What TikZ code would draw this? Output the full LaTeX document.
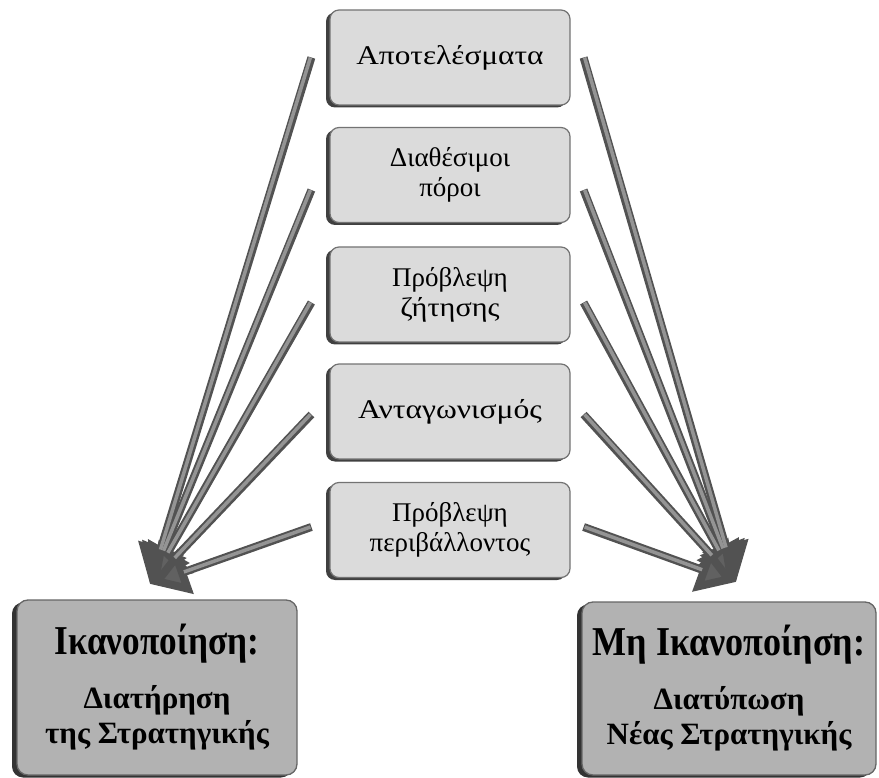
\documentclass[tikz,border=0pt]{standalone}
\usepackage{fontspec}
\usepackage{graphicx}
\setmainfont{Liberation Serif}
\usetikzlibrary{arrows.meta,shadows}
\newcommand{\sx}[2]{\scalebox{#1}[1]{#2}}
\begin{document}
\begin{tikzpicture}[x=1pt,y=-1pt,
  smallbox/.style={draw=black!55, line width=1.2pt, fill=black!14, rounded corners=9pt,
    minimum width=240pt, minimum height=95pt, align=center, inner sep=2pt,
    font=\fontsize{27}{30}\selectfont,
    drop shadow={shadow xshift=-4pt, shadow yshift=-2.5pt, fill=black!75, opacity=1}},
  bigbox/.style={draw=black!60, line width=1.3pt, fill=black!30, rounded corners=11pt,
    align=center, inner sep=2pt,
    font=\bfseries\fontsize{31}{35}\selectfont,
    drop shadow={shadow xshift=-5pt, shadow yshift=-2.5pt, fill=black!80, opacity=1}},
  conn/.style={line width=8pt, draw=black!68,
    -{Triangle[width=46pt,length=38pt,fill=black!62]}},
  conninner/.style={line width=3.5pt, draw=black!42, shorten >=36pt},
  title/.style={}
]
\useasboundingbox (0,0) rectangle (879,778);
\coordinate (tl) at (150,584);
\coordinate (tr) at (736,582);

\node[smallbox] (b1) at (450,57.5) {\sx{1.16}{Αποτελέσματα}};
\node[smallbox] (b2) at (450,175) {Διαθέσιμοι\\πόροι};
\node[smallbox] (b3) at (450,294.5) {Πρόβλεψη\\\sx{1.12}{ζήτησης}};
\node[smallbox] (b4) at (450,411.5) {\sx{1.17}{Ανταγωνισμός}};
\node[smallbox] (b5) at (450,530) {Πρόβλεψη\\περιβάλλοντος};

\foreach \b/\dy in {b1/0,b2/15,b3/8,b4/3,b5/-3}{
  \draw[conn] (\b.west) ++(-18,\dy) -- (tl);
  \draw[conn] (\b.east) ++(13,\dy) -- (tr);
}
\foreach \b/\dy in {b1/0,b2/15,b3/8,b4/3,b5/-3}{
  \draw[conninner] (\b.west) ++(-19,\dy) -- (tl);
  \draw[conninner] (\b.east) ++(14,\dy) -- (tr);
}

\node[bigbox, minimum width=280pt, minimum height=175pt] (sat) at (157,687.5)
  {{\fontsize{41}{41}\selectfont\sx{0.86}{Ικανοποίηση:}}\\[19pt]Διατήρηση\\της Στρατηγικής};
\node[bigbox, minimum width=294pt, minimum height=173pt] (unsat) at (729,688.5)
  {{\fontsize{41}{41}\selectfont\sx{0.88}{Μη Ικανοποίηση:}}\\[19pt]Διατύπωση\\Νέας Στρατηγικής};
\end{tikzpicture}
\end{document}
